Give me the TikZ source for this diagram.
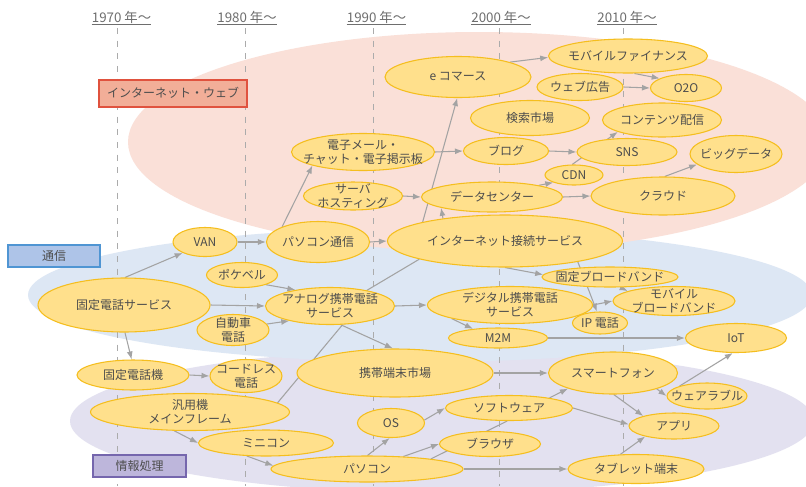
\documentclass[tikz,border=0pt]{standalone}
\usepackage{fontspec}
\setmainfont{Noto Sans CJK JP}
\usetikzlibrary{shapes.geometric,arrows.meta}
\definecolor{pinkbg}{HTML}{FAE0D8}
\definecolor{bluebg}{HTML}{DDE7F4}
\definecolor{lavbg}{HTML}{E3E1F0}
\definecolor{ndfill}{HTML}{FFE08C}
\definecolor{ndline}{HTML}{F5BE1E}
\definecolor{edgec}{HTML}{A3A3A3}
\definecolor{txtc}{HTML}{4D4D4D}
\definecolor{yearc}{HTML}{6E6E6E}
\definecolor{dashc}{HTML}{ABABAB}
\definecolor{inetfill}{HTML}{F2AE98}
\definecolor{inetline}{HTML}{E0523E}
\definecolor{comfill}{HTML}{AEC4E8}
\definecolor{comline}{HTML}{4F95D3}
\definecolor{infofill}{HTML}{BDB6DB}
\definecolor{infoline}{HTML}{7566AD}
\pgfdeclarelayer{bg}
\pgfdeclarelayer{edges}
\pgfsetlayers{bg,edges,main}
\tikzset{
  nd/.style={ellipse, draw=ndline, fill=ndfill, line width=0.8pt, inner sep=0pt},
  txt/.style={align=center, inner sep=0pt, text=txtc, font=\fontsize{9}{10.5}\selectfont},
  arr/.style={draw=edgec, line width=0.8pt, -{Latex[length=6pt,width=4.5pt]}},
  ln/.style={draw=edgec, line width=0.8pt},
  dashl/.style={draw=dashc, line width=0.75pt, dash pattern=on 4.5pt off 5pt},
  yearlbl/.style={anchor=base, inner sep=0pt, text=yearc, font=\fontsize{10}{12}\selectfont},
  uline/.style={draw=yearc, line width=0.7pt},
  catbox/.style={rectangle, line width=1.5pt, inner sep=0pt, text=txtc, font=\fontsize{9}{10.5}\selectfont}
}
\newcommand\mynode[6]{\node[nd, minimum width=#4*0.75pt, minimum height=#5*0.75pt] (#1) at (#2,#3) {};\node[txt] (#1-t) at (#1.center) {#6};}
\begin{document}
\begin{tikzpicture}[x=0.75pt,y=-0.75pt]
\useasboundingbox (0,0) rectangle (806,486);
\begin{pgfonlayer}{bg}
  \fill[white] (0,0) rectangle (806,486);
  \begin{scope}
    \clip (0,0) rectangle (806,486);
    \fill[lavbg] (442,421) ellipse [x radius=279pt, y radius=54pt];
    \fill[bluebg] (420,295) ellipse [x radius=294pt, y radius=50.25pt];
    \fill[pinkbg] (479,142) ellipse [x radius=263.25pt, y radius=82.5pt];
  \end{scope}
  \draw[dashl] (117,28) -- (117,486);
  \draw[dashl] (245,28) -- (245,486);
  \draw[dashl] (373,28) -- (373,486);
  \draw[dashl] (499,28) -- (499,486);
  \draw[dashl] (623,28) -- (623,486);
\end{pgfonlayer}

% year labels
\node[yearlbl] (y70) at (121.5,22) {1970 年〜};
\node[yearlbl] (y80) at (247,22) {1980 年〜};
\node[yearlbl] (y90) at (376.5,22) {1990 年〜};
\node[yearlbl] (y00) at (501,22) {2000 年〜};
\node[yearlbl] (y10) at (627,22) {2010 年〜};
\foreach \n in {y70,y80,y90,y00,y10}
  \draw[uline] ([yshift=-2pt]\n.base west) -- ([yshift=-2pt]\n.base east);

% category boxes
\node[catbox, draw=inetline, fill=inetfill, minimum width=148*0.75pt, minimum height=27*0.75pt] (catinet) at (173,93) {インターネット・ウェブ};
\node[catbox, draw=comline, fill=comfill, minimum width=92*0.75pt, minimum height=22*0.75pt] (catcom) at (54,256) {通信};
\node[catbox, draw=infoline, fill=infofill, minimum width=93*0.75pt, minimum height=22*0.75pt] (catinfo) at (139.5,466) {情報処理};

% nodes
\mynode{ecom}{458}{77}{146}{41}{e コマース}
\mynode{mobfin}{628}{56}{159}{34}{モバイルファイナンス}
\mynode{webad}{580}{87}{86}{27}{ウェブ広告}
\mynode{o2o}{686}{88}{71}{27}{O2O}
\mynode{search}{530}{118}{119}{35}{検索市場}
\mynode{contents}{662}{120}{119}{34}{コンテンツ配信}
\mynode{email}{363}{152}{143}{37}{電子メール・\\チャット・電子掲示板}
\mynode{blog}{506}{151}{85}{27}{ブログ}
\mynode{sns}{627}{152}{100}{27}{SNS}
\mynode{bigdata}{736}{154}{92}{37}{ビッグデータ}
\mynode{cdn}{574}{175}{58}{20}{CDN}
\mynode{hosting}{353}{196}{99}{28}{サーバ\\ホスティング}
\mynode{dc}{492}{197}{141}{30}{データセンター}
\mynode{cloud}{663}{196}{144}{38}{クラウド}
\mynode{van}{205}{242}{64}{29}{VAN}
\mynode{pcc}{318}{242}{103}{41}{パソコン通信}
\mynode{inet}{505}{241}{235}{52}{インターネット接続サービス}
\mynode{pokebell}{242}{275}{71}{25}{ポケベル}
\mynode{fts}{124}{305}{172}{54}{固定電話サービス}
\mynode{analog}{330}{306}{129}{37}{アナログ携帯電話\\サービス}
\mynode{carphone}{233}{330}{72}{31}{自動車\\電話}
\mynode{fbb}{610}{277}{136}{20}{固定ブロードバンド}
\mynode{digital}{510}{305}{165}{37}{デジタル携帯電話\\サービス}
\mynode{mbb}{674}{301}{122}{29}{モバイル\\ブロードバンド}
\mynode{ipphone}{600}{323}{55}{22}{IP 電話}
\mynode{m2m}{498}{338}{99}{20}{M2M}
\mynode{iot}{736}{338}{101}{29}{IoT}
\mynode{ftel}{133}{375}{112}{30}{固定電話機}
\mynode{cordless}{246}{376}{72}{33}{コードレス\\電話}
\mynode{ktmarket}{395}{373}{196}{48}{携帯端末市場}
\mynode{smart}{613}{373}{129}{42}{スマートフォン}
\mynode{wearable}{707}{396}{80}{26}{ウェアラブル}
\mynode{mainframe}{190}{412}{199}{37}{汎用機\\メインフレーム}
\mynode{os}{391}{423}{67}{29}{OS}
\mynode{software}{509}{408}{127}{25}{ソフトウェア}
\mynode{app}{674}{426}{90}{26}{アプリ}
\mynode{minicon}{266}{443}{135}{26}{ミニコン}
\mynode{browser}{490}{444}{101}{25}{ブラウザ}
\mynode{pc}{367}{469}{192}{26}{パソコン}
\mynode{tablet}{636}{469}{136}{29}{タブレット端末}

\begin{pgfonlayer}{edges}
  \draw[arr] (fts.88) -- (van.206);
  \draw[arr] (fts.east) -- (analog.west);
  \draw[arr] (fts.272) -- (ftel.95);
  \draw[arr] (van.east) -- (pcc.west);
  \draw[arr] (pokebell.338) -- (analog.155);
  \draw[arr] (carphone.10) -- (analog.200);
  \draw[arr] (pcc.157) -- (email.195);
  \draw[arr] (pcc.east) -- (inet.west);
  \draw[arr] (analog.east) -- (digital.west);
  \draw[arr] (analog.300) -- (ktmarket.95);
  \draw[arr] (ftel.east) -- (cordless.west);
  \draw[arr] (mainframe.230) -- (minicon.180);
  \draw[arr] (minicon.214) -- (pc.178);
  \draw[arr] (pc.88) -- (os.265);
  \draw[arr] (pc.19) -- (browser.180);
  \draw[arr] (pc.east) -- (tablet.west);
  \draw[arr] (os.5) -- (software.180);
  \draw[arr] (software.14) -- (smart.199);
  \draw[arr] (software.east) -- (app.178);
  \draw[arr] (smart.272) -- (app.162);
  \draw[arr] (smart.340) -- (wearable.180);
  \draw[arr] (wearable.160) -- (iot.258);
  \draw[arr] (tablet.137) -- (app.200);
  \draw[arr] (ktmarket.east) -- (smart.west);
  \draw[arr] (m2m.east) -- (iot.west);
  \draw[arr] (digital.193) -- (m2m.160);
  \draw[arr] (digital.east) -- (mbb.west);
  \draw[arr] (inet.270) -- (fbb.178);
  \draw[arr] (inet.344) -- (ipphone.105);
  \draw[arr] (fbb.315) -- (mbb.168);
  \draw[arr] (inet.167) -- (ecom.268);
  \draw[arr] (inet.160) -- (dc.192);
  \draw[arr] (dc.14) -- (cdn.200);
  \draw[arr] (dc.east) -- (cloud.west);
  \draw[arr] (cdn.100) -- (contents.195);
  \draw[arr] (blog.east) -- (sns.west);
  \draw[arr] (email.east) -- (blog.west);
  \draw[arr] (hosting.east) -- (dc.west);
  \draw[arr] (cloud.85) -- (bigdata.195);
  \draw[arr] (ecom.16) -- (mobfin.181);
  \draw[arr] (mobfin.290) -- (o2o.160);
  \draw[arr] (webad.east) -- (o2o.west);
  \draw[ln] (analog.23) -- (inet.192);
  \draw[ln] (mainframe.6) -- (analog.304);
  \draw[ln] (pc.9) -- (software.262);
\end{pgfonlayer}
\end{tikzpicture}
\end{document}
